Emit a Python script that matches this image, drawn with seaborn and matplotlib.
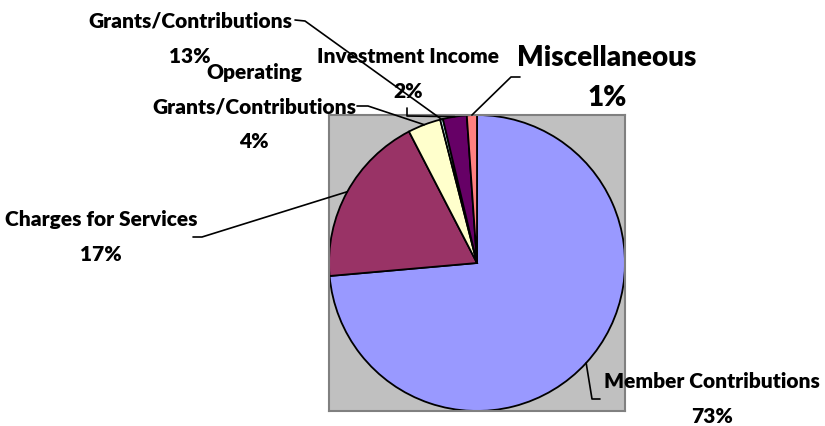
import numpy as np
import seaborn as sns
import matplotlib.pyplot as plt
from matplotlib.lines import Line2D

# slice data (clockwise from 12 o'clock)
categories = ['Member Contributions', 'Charges for Services', 'Operating\nGrants/Contributions',
              'Grants/Contributions', 'Investment Income', 'Miscellaneous']
shares = [73.6, 18.8, 3.6, 0.3, 2.6, 1.1]
pct_labels = ['73%', '17%', '4%', '13%', '2%', '1%']
colors = ['#9999FF', '#993366', '#FFFFCC', '#CCFFFF', '#660066', '#FF8080']

# label placement in pixels (text centre, font size, line spacing, leader elbow points)
label_pos = [(712, 399), (101, 237), (254, 107), (190, 39), (408, 74), (607, 78)]
label_size = [15, 15, 15, 15, 15, 20]
label_spacing = [2.0, 2.0, 2.0, 2.0, 2.0, 1.65]
leader = [[(592, 399), (600, 399)],
          [(202, 237), (193, 237)],
          [(368, 106), (357, 106)],
          [(305, 21), (295, 20)],
          [(407, 116), (407, 108)],
          [(511, 77), (520, 77)]]

sns.set_theme(style='white')
plt.rcParams['font.family'] = ['Lato', 'DejaVu Sans']

W, H = 825, 426
fig = plt.figure(figsize=(W / 100, H / 100), dpi=100)
ax = fig.add_axes([329 / W, 1 - 411 / H, 296 / W, 296 / H])
wedges, _ = ax.pie(shares, colors=colors, startangle=90, counterclock=False,
                   wedgeprops=dict(edgecolor='black', linewidth=1.3))
ax.set_xlim(-1, 1)
ax.set_ylim(-1, 1)
ax.set_frame_on(True)
ax.set_facecolor('#C0C0C0')
for s in ax.spines.values():
    s.set_visible(True)
    s.set_color('#808080')
    s.set_linewidth(1.5)

to_fig = fig.transFigure.inverted()


def px(x, y):
    return x / W, 1 - y / H


for w, cat, pct, pos, size, sp, pts in zip(wedges, categories, pct_labels, label_pos,
                                           label_size, label_spacing, leader):
    ang = np.deg2rad((w.theta1 + w.theta2) / 2)
    start = to_fig.transform(ax.transData.transform((np.cos(ang), np.sin(ang))))
    xs = [start[0]] + [px(*p)[0] for p in pts]
    ys = [start[1]] + [px(*p)[1] for p in pts]
    fig.add_artist(Line2D(xs, ys, color='black', linewidth=1.2, transform=fig.transFigure))
    fig.text(*px(*pos), cat + '\n' + pct, ha='center', va='center', fontsize=size,
             fontweight='heavy', linespacing=sp, color='black')

fig.savefig('out.png', dpi=100)
